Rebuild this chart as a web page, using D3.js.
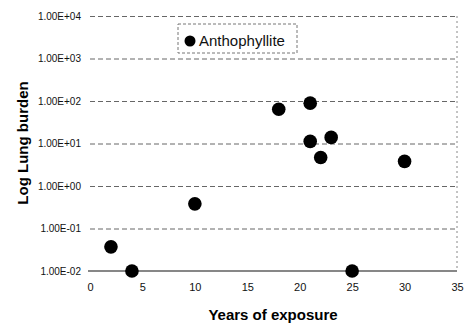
<!DOCTYPE html>
<html>
<head>
<meta charset="utf-8">
<script src="https://unpkg.com/d3@7/dist/d3.min.js"></script>
<style>
  body { margin: 0; background: #fff; }
  svg { font-family: "Liberation Sans", Arial, sans-serif; }
</style>
</head>
<body>
<div id="chart"></div>
<script>
// Data
const years = [2, 4, 10, 18, 21, 21, 22, 23, 25, 30];
const burden = [0.037, 0.01, 0.38, 64, 89, 11.2, 4.7, 13.9, 0.01, 3.8];
const yTicks = [0.01, 0.1, 1, 10, 100, 1000, 10000];
const yTickLabels = ["1.00E-02", "1.00E-01", "1.00E+00", "1.00E+01", "1.00E+02", "1.00E+03", "1.00E+04"];
const xTicks = [0, 5, 10, 15, 20, 25, 30, 35];
const seriesName = "Anthophyllite";

const w = 466, h = 329;
const plot = { left: 90, right: 457, top: 16, bottom: 271 };

const svg = d3.select("#chart")
  .append("svg")
  .attr("width", w)
  .attr("height", h);

const x = d3.scaleLinear().domain([0, 35]).range([plot.left, plot.right]);
const y = d3.scaleLog().domain([0.01, 10000]).range([plot.bottom, plot.top]);

// dashed gridlines
svg.append("g")
  .attr("class", "grid")
  .attr("transform", `translate(${plot.left},0)`)
  .call(d3.axisLeft(y).tickValues(yTicks.slice(1)).tickSize(-(plot.right - plot.left)).tickFormat(""))
  .call(g => g.select(".domain").remove())
  .call(g => g.selectAll("line")
    .attr("stroke", "#666")
    .attr("stroke-width", 1)
    .attr("stroke-dasharray", "5,3"));

// right border of plot area (dotted)
svg.append("line")
  .attr("x1", plot.right).attr("x2", plot.right)
  .attr("y1", plot.top).attr("y2", plot.bottom)
  .attr("stroke", "#888")
  .attr("stroke-dasharray", "2,3");

// y tick labels
svg.append("g")
  .attr("transform", `translate(${plot.left},0)`)
  .call(d3.axisLeft(y).tickValues(yTicks).tickSize(0).tickPadding(9)
    .tickFormat((d, i) => yTickLabels[i]))
  .call(g => g.select(".domain").remove())
  .call(g => g.selectAll("text")
    .attr("font-size", 10)
    .attr("font-family", "Liberation Sans, Arial, sans-serif")
    .attr("fill", "#111"));

// x axis
svg.append("g")
  .attr("transform", `translate(0,${plot.bottom})`)
  .call(d3.axisBottom(x).tickValues(xTicks).tickSize(0).tickPadding(12))
  .call(g => g.select(".domain").remove())
  .call(g => g.selectAll("text")
    .attr("font-size", 11)
    .attr("font-family", "Liberation Sans, Arial, sans-serif")
    .attr("fill", "#111"));

svg.append("line")
  .attr("x1", plot.left - 2).attr("x2", plot.right)
  .attr("y1", plot.bottom).attr("y2", plot.bottom)
  .attr("stroke", "#111")
  .attr("stroke-width", 1.2);

// points
svg.append("g")
  .selectAll("circle")
  .data(years.map((d, i) => [d, burden[i]]))
  .enter()
  .append("circle")
  .attr("cx", d => x(d[0]))
  .attr("cy", d => y(d[1]))
  .attr("r", 6.8)
  .attr("fill", "#000");

// axis titles
svg.append("text")
  .attr("x", 273)
  .attr("y", 320)
  .attr("text-anchor", "middle")
  .attr("font-size", 15)
  .attr("font-weight", "bold")
  .text("Years of exposure");

svg.append("text")
  .attr("transform", "translate(28,143) rotate(-90)")
  .attr("text-anchor", "middle")
  .attr("font-size", 15)
  .attr("font-weight", "bold")
  .text("Log Lung burden");

// legend
const legend = svg.append("g");
legend.append("rect")
  .attr("x", 178).attr("y", 24)
  .attr("width", 119).attr("height", 29)
  .attr("fill", "#fff")
  .attr("stroke", "#777")
  .attr("stroke-dasharray", "3,2");
legend.append("circle")
  .attr("cx", 190).attr("cy", 41)
  .attr("r", 5.5)
  .attr("fill", "#000");
legend.append("text")
  .attr("x", 199).attr("y", 46)
  .attr("font-size", 15)
  .attr("fill", "#111")
  .text(seriesName);
</script>
</body>
</html>
